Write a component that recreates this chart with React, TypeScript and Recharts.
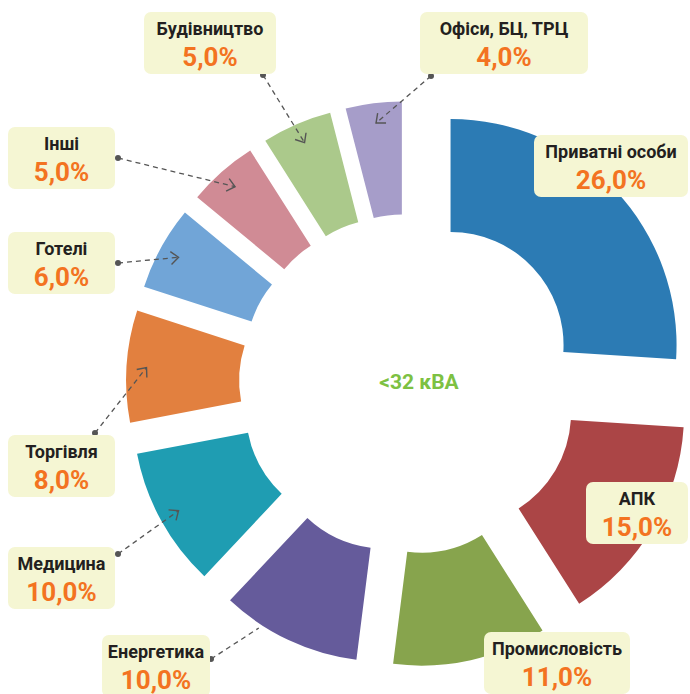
import { PieChart, Pie, Cell, Sector } from "recharts";

const categories = [
    "Приватні особи",
    "АПК",
    "Промисловість",
    "Енергетика",
    "Медицина",
    "Торгівля",
    "Готелі",
    "Інші",
    "Будівництво",
    "Офіси, БЦ, ТРЦ",
];
const shares = [26, 15, 11, 10, 10, 8, 6, 5, 5, 4];
const shareLabels = ["26,0%", "15,0%", "11,0%", "10,0%", "10,0%", "8,0%", "6,0%", "5,0%", "5,0%", "4,0%"];
const centerLabel = "<32 кВА";

const COLORS = [
    "#2c7bb4",
    "#ab4546",
    "#87a44d",
    "#655b9b",
    "#1f9db2",
    "#e2803f",
    "#71a5d7",
    "#d08b95",
    "#abc98b",
    "#a69dc9",
];

const data = categories.map((name, i) => ({ name, value: shares[i], label: shareLabels[i] }));

const CX = 409;
const CY = 384;
const INNER = 113;
const OUTER = 226;
const EXPLODE = 57;
const RAD = Math.PI / 180;

const polar = (cx: number, cy: number, r: number, angle: number) => ({
    x: cx + r * Math.cos(-angle * RAD),
    y: cy + r * Math.sin(-angle * RAD),
});

// label boxes (left, top, width) and where the dashed leader starts
const LABEL_BOXES: { x: number; y: number; w: number; dot?: [number, number]; arrow?: boolean; tipR?: number; tipShift?: number }[] = [
    { x: 534, y: 135, w: 154 },
    { x: 586, y: 482, w: 102 },
    { x: 484, y: 632, w: 146 },
    { x: 102, y: 635, w: 108, dot: [211, 659], arrow: false, tipR: 230, tipShift: -8 },
    { x: 8, y: 547, w: 107, dot: [118, 554] },
    { x: 8, y: 435, w: 107, dot: [95, 433] },
    { x: 8, y: 232, w: 107, dot: [118, 263] },
    { x: 8, y: 127, w: 107, dot: [118, 158] },
    { x: 144, y: 12, w: 132, dot: [263, 75] },
    { x: 420, y: 12, w: 168, dot: [431, 76] },
];

const FONT = "Roboto, 'Liberation Sans', sans-serif";

const ExplodedSlice = (props: any) => {
    const { cx, cy, midAngle } = props;
    const p = polar(cx, cy, EXPLODE, midAngle);
    return <Sector {...props} cx={p.x} cy={p.y} />;
};

const renderLabel = (props: any) => {
    const { cx, cy, midAngle, outerRadius, index } = props;
    const box = LABEL_BOXES[index];
    const item = data[index];
    let leader = null;
    if (box.dot) {
        const apex = polar(cx, cy, EXPLODE, midAngle);
        const tip = polar(apex.x, apex.y, box.tipR ?? outerRadius - 20, midAngle + (box.tipShift ?? 0));
        const [dx, dy] = box.dot;
        const ang = Math.atan2(dy - tip.y, dx - tip.x);
        const a1 = { x: tip.x + 10 * Math.cos(ang + 0.7), y: tip.y + 10 * Math.sin(ang + 0.7) };
        const a2 = { x: tip.x + 10 * Math.cos(ang - 0.7), y: tip.y + 10 * Math.sin(ang - 0.7) };
        leader = (
            <g>
                <line x1={dx} y1={dy} x2={tip.x} y2={tip.y} stroke="#555" strokeWidth={1.3} strokeDasharray="5 4" />
                <circle cx={dx} cy={dy} r={3} fill="#555" />
                {box.arrow !== false && (
                    <polyline
                        points={`${a1.x},${a1.y} ${tip.x},${tip.y} ${a2.x},${a2.y}`}
                        fill="none"
                        stroke="#555"
                        strokeWidth={1.4}
                    />
                )}
            </g>
        );
    }
    const mid = box.x + box.w / 2;
    return (
        <g>
            {leader}
            <rect x={box.x} y={box.y} width={box.w} height={62} rx={7} fill="#f5f6d3" />
            <text x={mid} y={box.y + 23} textAnchor="middle" fontFamily={FONT} fontWeight={700} fontSize={18} fill="#231f20">
                {item.name}
            </text>
            <text x={mid} y={box.y + 54} textAnchor="middle" fontFamily={FONT} fontWeight={700} fontSize={26} fill="#f37321">
                {item.label}
            </text>
        </g>
    );
};

export default function App() {
    return (
        <div style={{ position: "absolute", left: 0, top: 0, width: 690, height: 694, background: "#fff" }}>
            <PieChart width={690} height={694} margin={{ top: 0, right: 0, bottom: 0, left: 0 }}>
                <Pie
                    data={data}
                    dataKey="value"
                    nameKey="name"
                    cx={CX}
                    cy={CY}
                    innerRadius={INNER}
                    outerRadius={OUTER}
                    startAngle={90}
                    endAngle={-270}
                    stroke="none"
                    shape={ExplodedSlice}
                    label={renderLabel}
                    labelLine={false}
                    isAnimationActive={false}
                >
                    {data.map((d, i) => (
                        <Cell key={d.name} fill={COLORS[i]} />
                    ))}
                </Pie>
                <text x={CX + 10} y={389} textAnchor="middle" fontFamily={FONT} fontWeight={700} fontSize={21} fill="#7dc142">
                    {centerLabel}
                </text>
            </PieChart>
        </div>
    );
}
